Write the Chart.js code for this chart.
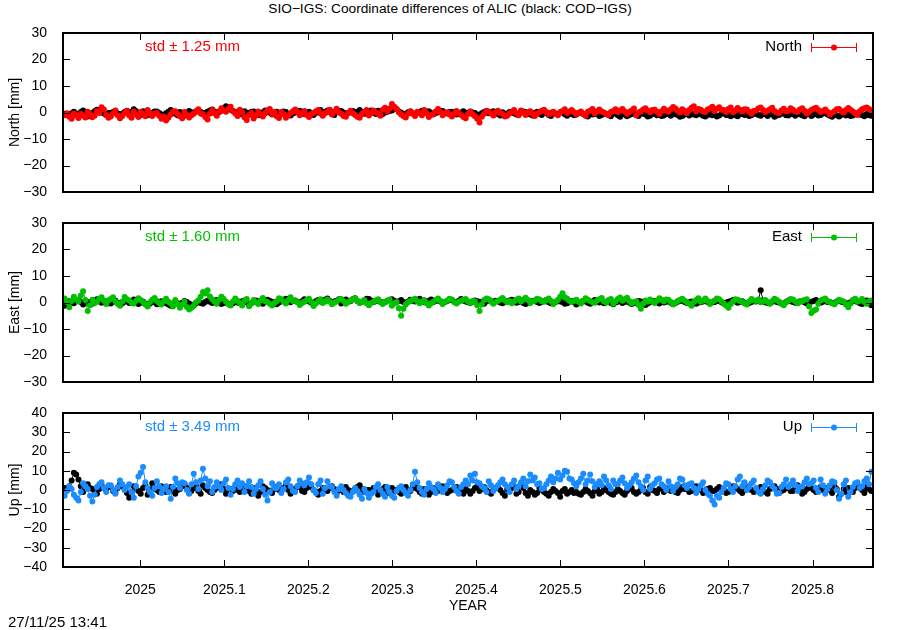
<!DOCTYPE html>
<html>
<head>
<meta charset="utf-8">
<script src="https://cdn.jsdelivr.net/npm/chart.js@4.4.1/dist/chart.umd.min.js"></script>
<style>
  body { margin: 0; width: 900px; height: 630px; background: #fff; position: relative; overflow: hidden;
         font-family: "Liberation Sans", Arial, sans-serif; }
  canvas { position: absolute; left: 0; }
  .txt { position: absolute; color: #000; white-space: nowrap; }
</style>
</head>
<body>
<div class="txt" style="left:0;width:900px;text-align:center;top:1px;font-size:13.7px">SIO−IGS: Coordinate differences of ALIC (black: COD−IGS)</div>
<canvas id="north" width="900" height="200" style="top:0"></canvas>
<canvas id="east" width="900" height="190" style="top:200px"></canvas>
<canvas id="up" width="900" height="240" style="top:390px"></canvas>
<div class="txt" style="left:8px;top:613px;font-size:15px">27/11/25 13:41</div>
<script>
// daily solutions, first and last epoch (decimal year)
const T0 = 2024.910, T1 = 2025.870;
const xMin = 2024.908, xMax = 2025.872;
const yearTicks = [2025, 2025.1, 2025.2, 2025.3, 2025.4, 2025.5, 2025.6, 2025.7, 2025.8];
const neTicks = [-30, -20, -10, 0, 10, 20, 30];
const upTicks = [-40, -30, -20, -10, 0, 10, 20, 30, 40];

// North [mm]
const northSio = [
  -1.0, -0.3, -1.6, -2.4, -0.4, -1.1, -2.1, -0.6, -1.2, -1.9, 0.3, -0.7, -1.8, -1.2, 0.6, -0.2, 2.0, 1.1, -0.9, -2.0,
  -1.5, -0.4, 0.8, -1.0, -2.2, -1.3, -0.3, 0.6, -1.1, -2.0, 0.4, -0.8, -1.7, 0.2, -0.6, -1.4, 0.9, -0.2, -1.3, -0.5,
  -0.2, -1.2, -2.4, -1.5, -3.0, -2.0, -0.8, 0.4, 0.5, -0.6, -1.4, -2.2, 0.2, -0.9, -1.9, -1.0, -0.5, 0.3, 1.2, -0.4,
  -0.7, -1.7, -2.6, -0.5, 0.9, -0.3, -1.2, 0.5, 1.6, 0.8, 0.3, 1.4, 2.2, 0.6, -0.4, -1.3, 1.0, 0.1, -1.8, -2.8,
  -0.9, -0.1, -2.3, -1.0, 0.4, -0.8, -1.5, -0.3, 0.8, 1.3, -0.6, 0.3, -1.4, -2.1, 0.2, -0.7, -2.0, -1.1, -0.3, 0.5,
  1.1, 0.2, -1.0, -0.2, 0.6, -0.9, -1.7, -0.6, -0.2, 0.5, 0.9, -0.4, -1.2, -0.3, 0.3, 1.0, -0.8, 0.4, 1.4, 0.1,
  -0.5, -1.3, -1.6, -0.2, 0.7, -0.3, -0.9, -1.6, -2.0, -0.6, 0.2, 0.9, -1.1, -0.2, 0.8, 0.0, -0.4, -1.2, 1.0, 1.8,
  0.4, 1.5, 3.2, 2.2, 1.2, 0.1, -0.8, -1.4, -1.9, -0.4, 0.5, -0.5, -1.3, 0.3, -0.2, -1.0, 0.9, -0.3, -1.7, -0.9,
  -0.6, 0.4, 1.3, 0.2, -1.0, -0.3, 0.1, -0.8, -1.5, -0.5, 0.6, -0.2, -0.9, -1.7, -2.2, -0.6, 0.3, -0.7, -1.4, -2.4,
  -3.8, -1.6, -0.5, 0.6, 0.4, -0.4, -1.1, 0.1, 0.7, -0.2, -0.6, -1.5, -1.2, -0.4, 0.2, 0.9, -0.3, -1.0, 0.8, 0.1,
  -0.9, -0.1, 0.5, -0.6, -1.3, -0.4, 0.1, 0.7, 1.0, 0.2, -0.7, -0.1, 0.3, -0.5, -1.0, 0.0, 0.6, 1.2, -0.2, 0.4,
  0.9, 0.1, -0.8, -0.2, 0.4, -0.5, -1.2, 0.3, 0.7, 1.3, -0.4, 0.5, 1.1, 0.4, 0.0, -0.6, -0.9, 0.2, 0.6, 1.2,
  0.2, 0.8, 1.3, 0.4, -0.5, 0.2, 0.8, 1.5, -1.0, 0.0, 0.5, 1.1, 1.6, 0.7, 0.1, 0.9, 1.0, 0.3, -0.6, 0.5,
  1.4, 0.8, 0.3, 1.2, 2.1, 1.5, 0.7, 0.0, 1.2, 0.6, -0.3, 0.9, 1.8, 2.4, 0.5, 1.3, 1.0, 0.4, 0.2, 1.1,
  1.5, 2.2, 0.6, 1.4, 2.0, 1.0, 0.9, 0.2, 1.3, 1.9, 0.1, 0.8, 1.7, 1.0, 0.4, 1.2, 1.1, 0.3, -0.5, 0.6,
  0.8, 1.5, 1.9, 0.9, 0.2, 0.7, 1.2, 1.8, 0.6, 0.0, -0.2, 0.8, 1.4, 0.5, 0.7, 1.6, 1.0, 0.4, 0.3, 1.1,
  1.6, 0.7, -0.4, 0.3, 0.9, 1.4, 1.8, 0.9, 0.2, 0.6, 1.1, 0.3, -0.8, -0.1, 0.5, 1.2, 1.3, 0.6, 0.0, 0.9,
  1.7, 1.0, 0.4, -0.3, -0.9, 0.5, 1.2, 1.6, 1.9, 1.3, 0.8
];
const northCod = [
  -0.5, -0.9, -1.2, -0.3, 0.3, -0.4, -0.8, 0.2, 0.8, -0.6, -1.5, -0.7, -0.2, 0.5, 1.0, 0.4, 0.1, -0.4, -0.9, -0.2,
  -0.3, 0.2, 0.6, -0.4, -1.1, -0.5, 0.2, 0.7, -0.6, 0.3, 1.2, 0.5, -0.4, -0.9, 0.5, 0.0, -1.0, -0.5, -0.1, 0.4,
  0.4, -0.2, -0.8, -1.3, -0.3, 0.3, 0.9, 0.2, -0.5, -1.0, 0.2, -0.4, -1.2, -0.3, 0.6, 0.1, -0.2, 0.5, 0.8, 0.2,
  -0.6, -0.1, 0.3, 0.8, 1.1, 0.4, -0.4, 0.2, 0.7, 1.6, 2.4, 1.8, 1.0, 0.6, 0.2, -0.3, -0.7, 0.0, 0.5, -0.1,
  -0.3, 0.3, 0.4, -0.5, -1.0, -0.4, 0.1, 0.8, 0.6, -0.1, -0.8, -0.2, 0.3, -0.2, -0.5, 0.4, 0.2, -0.6, -1.1, -0.4,
  0.0, 0.4, 0.7, 0.1, -0.6, -0.2, 0.3, -0.4, -0.9, -0.1, 0.5, 0.9, -0.2, 0.3, 0.8, 0.2, -0.4, -0.9, 0.1, 0.6,
  0.6, 0.0, -0.7, -0.2, 0.2, 0.6, -0.3, 0.3, 0.9, 0.2, -0.5, -0.1, 0.4, 0.8, -0.1, -0.6, 0.7, 0.1, -0.6, 0.0,
  0.3, 0.6, 0.8, 1.5, 1.3, 0.4, 0.0, -0.6, -0.5, 0.1, 0.4, -0.3, -0.9, -0.2, 0.2, 0.7, -0.3, 0.1, 0.5, -0.2,
  -0.7, -0.2, 0.1, 0.7, 0.6, -0.1, -0.4, 0.2, 0.3, -0.3, -0.8, -0.4, 0.0, 0.5, -0.5, -0.1, 0.4, 0.0, -0.2, -0.8,
  -1.0, -0.3, 0.2, 0.6, -0.3, 0.1, 0.5, -0.2, -0.6, -1.1, 0.1, -0.5, -0.4, 0.2, 0.3, -0.3, -0.8, -0.5, -0.1, 0.4,
  0.2, -0.3, -0.7, -1.1, -0.2, 0.3, -0.5, -0.9, 0.3, -0.2, -0.9, -1.3, -0.1, -0.4, -0.6, 0.1, 0.0, -0.7, -1.2, -0.6,
  -0.4, -1.0, -0.8, -0.2, 0.1, -0.6, -1.1, -1.5, -0.3, -0.8, -0.7, -0.2, -1.3, -0.9, -0.2, -0.6, -0.9, -1.4, -0.5, -0.1,
  -1.0, -1.6, -0.3, -0.8, -1.4, -0.9, -0.6, -0.2, -0.9, -1.3, -0.1, -0.5, -0.8, -1.5, -1.2, -0.6, -0.4, -1.0, -0.7, -1.3,
  -1.1, -0.6, -0.5, -1.2, -0.2, -0.7, -0.9, -1.6, -1.3, -0.8, -0.6, -1.1, -0.3, -0.8, -1.0, -0.4, -0.7, -1.2, -1.5, -0.9,
  -0.4, -1.0, -0.8, -1.5, -1.1, -0.5, -0.2, -0.9, -0.9, -1.4, -0.6, -1.0, -1.4, -0.7, -0.3, -0.9, -0.8, -1.3, -1.0, -0.5,
  -0.5, -0.9, -1.2, -0.6, -0.7, -1.3, -0.3, -0.8, -1.6, -1.1, -0.9, -0.4, -0.4, -1.0, -1.1, -0.6, -0.6, -1.2, -0.2, -0.7,
  -1.0, -1.4, -0.7, -0.3, -1.3, -0.8, -0.5, -1.1, -0.9, -0.4, -0.2, -0.8, -1.2, -1.6, -0.6, -1.0, -1.5, -0.9, -0.4, -1.1,
  -0.8, -1.3, -1.1, -0.5, -0.3, -0.8, -0.9, -1.4, -0.6, -1.0, -1.2
];

// East [mm]
const eastSio = [
  1.5, 0.2, -1.8, 0.6, 2.2, 1.1, 0.4, 2.6, 4.2, 0.9, -3.2, -1.0, 1.0, -0.2, 0.3, 1.4, 2.0, 0.7, -0.6, 0.8,
  1.3, 2.0, 0.5, -0.5, -1.2, 0.4, 2.1, 1.2, 0.8, -0.1, -0.4, 0.7, 1.6, 0.9, 0.2, -0.8, -1.5, 0.1, 1.0, 1.7,
  0.6, -0.2, -0.8, 0.5, 1.4, 0.3, -0.3, -1.5, 0.9, -0.6, -2.0, -0.8, 0.4, -1.7, -2.6, -2.0, -1.2, 0.1, 0.8, 2.2,
  4.0, 3.4, 4.6, 2.3, 1.2, 0.4, -0.5, 1.0, 2.2, 1.3, 0.3, -0.6, -1.0, 0.4, 1.5, 0.7, -0.2, -1.1, 0.6, 1.3,
  -1.4, -0.3, 0.9, 0.1, -0.6, 0.8, 1.7, 0.5, 0.2, -0.5, -1.1, -0.2, 0.5, 1.6, 1.2, 0.3, -0.4, 0.9, 2.0, 0.6,
  0.8, 0.1, -0.9, -0.2, 0.3, 0.9, 1.4, 0.2, -1.3, -0.4, 0.6, 1.2, -0.2, 0.4, 1.1, 0.3, -0.7, -0.1, 0.4, 1.0,
  1.3, 0.6, -0.5, 0.2, 0.7, 1.2, 1.6, 0.5, -0.2, 0.4, 0.9, -0.3, -1.0, -0.2, 0.3, 0.8, 1.2, 0.1, -0.6, 0.2,
  0.5, 1.1, -1.2, -0.4, 0.2, -2.2, -5.0, -2.4, -0.8, 0.1, 0.6, 1.0, 1.4, 0.5, -0.3, 0.3, 0.9, -0.2, -1.1, -0.3,
  0.4, 0.9, 1.5, 0.6, -0.6, 0.2, 0.8, 1.4, 1.1, 0.2, -0.4, 0.3, 0.7, 1.0, 1.3, 0.4, -0.2, 0.6, 0.5, -1.0,
  -3.2, -0.8, 0.9, 1.5, 1.2, 0.3, -0.5, 0.2, 0.6, 1.1, 1.7, 0.8, 0.1, 0.6, -0.3, 0.4, 1.0, 1.5, 0.4, 1.1,
  1.8, 0.9, -0.2, 0.4, 0.7, 1.4, 1.1, 0.5, 0.3, 0.9, 1.5, 0.6, -0.6, 0.2, 0.9, 2.2, 3.5, 2.0, 1.4, 0.7,
  0.2, 0.6, 1.0, 0.3, -0.4, 0.7, 1.6, 1.0, 0.6, 0.1, -0.1, 0.8, 1.2, 1.7, 0.4, 0.0, 0.9, 1.3, -0.5, 0.4,
  1.3, 1.9, 0.7, 1.2, 1.8, 0.6, -0.3, 0.2, 0.5, -0.9, -2.4, -0.5, 0.8, 0.3, 1.1, 0.5, -0.2, 0.7, 1.6, 1.0,
  0.4, 1.1, 1.0, 0.2, -0.7, 0.0, 0.6, 1.0, 1.4, 0.7, 0.1, -0.5, -1.2, 0.2, 0.9, 1.6, 0.3, 0.8, 1.5, 0.6,
  -0.6, 0.3, 0.8, 1.5, 1.2, 0.4, -0.4, -1.1, -2.0, -0.6, 0.5, 1.2, 1.0, 0.6, 0.2, -0.3, -0.8, 0.4, 1.3, 0.8,
  0.6, 1.1, 0.1, 0.5, 0.9, 0.2, -0.5, 0.6, 1.4, 0.9, 0.3, -0.4, -1.0, 0.1, 0.7, 1.3, 1.1, 0.4, -0.3, 0.6,
  0.5, 0.9, 1.2, -1.5, -4.0, -3.1, -2.6, -0.5, 0.8, 1.1, 1.5, 0.6, 0.2, -0.3, -0.7, 0.4, 1.0, 0.7, 0.4, -0.8,
  -1.8, -0.4, 0.9, 1.4, 0.3, 0.7, 1.3, 0.2, -0.5, 0.4, 0.8
];
const eastCod = [
  -1.2, -0.4, 0.5, 0.1, -0.3, 0.6, 1.0, 0.2, -0.8, -0.2, 0.2, -0.6, -0.5, 0.4, 1.2, 0.5, -0.1, 0.3, 0.6, -0.3,
  -0.4, 0.3, 0.8, -0.1, -0.9, -0.3, 0.3, 0.7, -0.2, 0.4, 1.1, 0.2, -0.6, -0.1, 0.4, -0.5, -1.0, -0.4, 0.1, 0.5,
  -0.7, 0.0, 0.5, 0.1, -0.3, -0.8, -1.2, -0.5, 0.2, -0.3, -0.8, -0.1, 0.6, 0.2, -0.4, -0.9, -1.1, -0.3, 0.3, -0.2,
  -0.5, 0.2, 0.7, 0.3, -0.2, 0.4, 0.9, 0.1, -0.6, -0.2, 0.1, -0.5, -1.0, -0.3, 0.4, 0.0, -0.3, 0.5, 0.8, 0.1,
  -0.9, -0.3, 0.2, 0.8, 0.6, -0.1, -0.5, 0.4, 1.0, 0.6, 0.3, -0.2, -0.7, 0.0, 0.5, 1.0, 1.4, 0.7, 0.1, 0.6,
  0.8, 0.3, -0.3, 0.5, 1.2, 0.8, 0.4, -0.1, -0.2, 0.5, 0.9, 0.4, 0.3, 1.0, 1.5, 0.6, 0.0, 0.4, 0.7, 1.2,
  -0.4, 0.4, 1.1, 0.7, 0.5, 1.2, 1.6, 0.6, -0.1, 0.3, 0.8, 1.4, 1.3, 0.7, 0.2, 0.5, 0.9, 0.3, -0.3, 0.2,
  0.6, 0.9, 1.2, 0.7, 0.3, 0.5, 0.9, 0.2, -0.2, 0.4, 1.0, 0.6, 0.4, 0.9, 1.4, 0.8, 0.1, 0.3, 0.7, 1.1,
  0.2, 0.6, 1.1, 0.4, -0.3, 0.2, 0.6, 1.0, 0.9, 0.3, 0.0, 0.7, 1.3, 0.8, 0.4, 0.1, -0.2, 0.3, 0.8, 0.5,
  0.3, -0.1, -0.5, 0.4, 0.9, 0.5, 0.1, 0.7, 0.6, 0.0, -0.3, 0.2, 0.4, 0.8, 1.0, 0.3, -0.1, 0.2, 0.5, -0.2,
  -0.6, -0.1, 0.3, 0.6, 0.8, 0.2, -0.2, 0.3, 0.5, 0.9, 0.1, -0.3, -0.4, 0.2, 0.7, 0.4, 0.2, -0.5, -0.3, 0.3,
  0.6, 0.1, -0.8, -0.2, 0.2, 0.7, 0.4, -0.1, -0.5, 0.3, 0.9, 0.4, 0.0, 0.5, -0.3, 0.1, 0.5, -0.2, -0.7, 0.0,
  0.3, 0.8, -0.2, 0.2, 0.7, 0.0, -0.6, -0.2, 0.1, 0.6, 0.4, -0.3, -0.9, -0.4, 0.2, 0.5, 0.6, 0.1, -0.4, 0.2,
  0.0, 0.3, 0.5, -0.1, -0.7, -0.2, 0.3, 0.6, 0.8, 0.2, -0.2, 0.1, 0.4, -0.1, -0.5, 0.0, 0.1, 0.4, 0.7, 0.2,
  -0.3, 0.1, 0.2, 0.7, 0.6, 0.1, -0.4, 0.0, 0.3, 0.6, 0.9, 0.4, -0.1, 0.2, 0.5, -0.1, -0.6, -0.2, 0.2, 0.5,
  0.4, 0.9, 4.6, 0.8, 0.1, -0.2, -0.3, 0.3, 0.6, 0.2, 0.0, -0.4, -0.5, 0.2, 0.8, 0.5, 0.2, -0.1, -0.2, 0.4,
  0.5, 0.1, -0.4, 0.0, 0.3, 0.6, 0.9, 0.4, -0.1, 0.3, 0.6, 0.2, 0.2, -0.2, -0.3, 0.4, 0.7, 0.3, 0.1, -0.3,
  -0.4, 0.1, 0.5, 0.6, 0.2, -0.3, -0.6, 0.2, 0.8, -0.2, -1.0
];

// Up [mm]
const upSio = [
  -3.0, -0.5, 2.0, 0.5, -2.5, -4.0, -5.5, -1.0, 3.5, 2.0, 0.5, -3.0, -6.0, -2.5, 1.5, 3.0, 4.0, 1.0, -1.0, 2.5,
  2.5, 0.0, -2.0, 1.5, 5.0, 3.0, 0.0, 1.5, 3.0, -1.0, -4.0, 2.0, 7.0, 9.0, 12.0, 4.0, 1.0, -1.0, -3.0, 1.0,
  4.5, 2.0, -1.5, 0.5, 2.0, -1.0, -4.5, 1.5, 6.0, 3.5, 1.0, 4.0, 3.5, 0.0, -2.0, 3.0, 8.5, 4.0, 0.5, 5.0,
  11.0, 6.0, 2.0, 4.5, -1.0, 1.5, 4.0, 2.0, 0.0, 3.5, 5.5, 1.0, -2.5, 0.5, 3.0, 5.0, 1.5, 3.5, -1.0, 2.0,
  4.5, 1.5, -2.0, 0.5, 2.5, 4.5, 0.5, -2.5, -5.5, -1.0, 3.5, 1.0, 1.0, 3.0, -1.5, 0.5, 4.0, 5.5, 2.0, -0.5,
  -1.0, 2.0, 5.0, 3.5, 2.5, 4.0, 6.5, 3.0, 0.0, -1.5, 3.0, 5.0, -2.0, 1.0, 4.5, 2.0, 1.5, -1.0, -3.0, 0.5,
  2.0, 0.0, -1.5, -3.0, -3.5, -1.0, 1.0, -0.5, -2.5, -4.5, 0.5, -1.5, -4.0, -2.0, -1.0, 1.5, 3.0, 0.0, -2.0, -3.5,
  1.5, -1.0, -3.0, -4.0, -0.5, 1.0, 2.0, 0.0, -1.5, -3.0, 0.0, 3.0, 9.5, 4.0, 1.0, -1.0, -2.5, 0.5, 3.5, 1.5,
  0.5, -1.5, 3.0, 1.0, -1.0, 0.5, 2.5, 4.5, 4.0, 1.5, -0.5, -2.0, 1.5, 3.0, 5.0, 3.0, 7.5, 5.0, 8.5, 4.0,
  3.5, 2.0, 1.0, -1.0, 4.5, 2.5, -0.5, 1.0, 2.5, 4.0, 5.5, 3.0, 1.5, -1.0, 3.0, 5.0, 0.5, 2.0, 4.0, 6.0,
  2.0, 4.5, 8.0, 5.0, 6.5, 3.0, 3.5, 0.5, 1.0, 3.0, 5.0, 7.0, 4.0, 6.0, 9.0, 5.5, 7.5, 10.0, 9.5, 6.0,
  5.5, 3.5, 2.0, 4.0, 6.0, 8.5, 3.0, 5.0, 8.0, 4.5, 1.5, 3.0, 4.5, 2.5, 7.0, 5.0, 2.5, 0.5, 5.0, 3.0,
  3.0, 5.0, 6.5, 3.5, 1.0, 2.5, 4.0, 6.0, 7.5, 4.0, 2.0, 0.0, 5.0, 7.0, 0.5, 2.5, 3.5, 5.5, 6.0, 3.0,
  2.0, 0.0, 4.5, 2.0, -0.5, 1.5, 3.0, 6.0, 5.5, 2.5, 1.0, 3.0, 3.5, 1.0, -1.5, 0.5, 2.5, 4.0, 0.0, -2.0,
  -3.0, -5.5, -7.5, -3.0, -4.0, -1.0, 1.0, 3.5, 3.0, 0.5, -1.0, 2.0, 5.5, 7.0, 2.0, 4.0, 0.0, 1.5, 3.5, 5.0,
  1.0, -1.0, -2.0, 0.5, 2.5, 5.0, 4.0, 2.0, 0.5, -2.0, -1.5, 1.5, 3.0, 5.5, 1.5, 3.0, 5.0, 2.5, -0.5, 1.5,
  2.0, 4.0, 6.0, 3.0, 3.5, 5.0, 1.0, -1.0, 5.5, 2.5, -2.0, 0.5, 2.5, 4.5, 4.0, 0.0, -4.5, -2.0, 3.0, 5.0,
  -3.5, -1.0, 1.5, 3.5, 4.0, 1.0, 2.0, 4.5, 6.0, 3.0, 9.5
];
const upCod = [
  1.0, 0.0, 2.0, 5.0, 9.0, 8.0, 5.5, 2.0, -1.0, 1.5, 3.0, 1.0, 0.5, -1.0, -2.0, 0.5, 2.5, 1.0, 0.0, 2.0,
  1.5, -0.5, -1.5, 1.0, 3.0, 2.0, 0.5, -1.5, -4.0, -1.0, 2.0, 0.5, -0.5, -2.0, 1.0, 2.5, -2.5, 0.5, 3.5, 1.0,
  0.0, -1.0, 2.0, 0.5, -1.0, 0.5, 1.5, -0.5, -2.0, 0.0, 0.5, 2.0, 3.0, 1.0, -1.5, -0.5, 1.0, 2.0, -0.5, -2.0,
  2.5, 1.0, 0.0, -1.0, -1.5, 0.0, 1.0, 2.0, 3.0, 0.5, -2.0, -1.0, 0.5, -0.5, 1.5, 0.0, -1.0, 0.5, 2.0, 1.0,
  -0.5, -2.0, 1.0, 0.0, -3.0, -1.0, 2.0, 1.0, 0.0, -0.5, -1.5, 0.5, 1.5, 0.0, -0.5, 1.0, 2.5, 0.0, -2.0, -0.5,
  0.5, 2.0, 1.5, -0.5, -1.0, 1.0, 3.0, 1.5, 0.0, -1.0, -2.5, -0.5, 1.0, 0.0, -0.5, 1.0, 2.0, 0.5, -1.5, 0.0,
  0.0, -1.0, 1.5, 0.0, -2.0, -0.5, 0.5, 1.5, 2.5, 0.5, -1.0, 0.0, 0.0, -1.5, 1.0, 0.0, -2.5, -1.0, 0.5, 1.5,
  -1.5, 0.0, 1.0, -0.5, 0.0, -1.0, -2.0, 0.5, 1.5, 0.0, -0.5, 1.0, 2.0, 0.5, -1.0, -2.0, 0.5, -0.5, -2.5, -1.0,
  1.0, 0.0, -0.5, 1.0, 2.0, 0.5, -1.5, -0.5, 0.0, 1.0, 1.5, 0.0, -1.0, -2.0, 0.5, -0.5, -2.0, -0.5, 1.0, 2.0,
  -0.5, 0.5, 1.5, 0.0, -1.0, -2.0, 0.0, 1.0, 2.0, 0.0, -1.5, -3.0, 0.5, -0.5, 1.0, 2.0, -2.0, -1.0, 3.0, 1.0,
  -1.5, -3.0, 0.0, -1.0, -2.5, -1.5, 1.0, 0.0, -1.0, -2.0, -3.0, -1.0, 0.5, -0.5, -1.5, -3.5, -0.5, 0.5, -2.0, -1.0,
  0.0, -1.5, -1.0, -2.0, -2.5, -1.0, 0.5, -0.5, -1.5, -3.0, -0.5, 0.5, -2.0, -1.0, 1.0, 0.0, -1.0, -2.0, -2.5, -1.0,
  0.5, -0.5, -1.5, -2.5, -0.5, 0.5, 1.0, -1.0, -2.0, -1.0, 0.0, 1.0, -1.0, -2.0, 1.5, 0.0, -0.5, -1.5, 0.5, 1.0,
  -1.0, 0.0, 1.0, -0.5, 0.0, -1.0, -1.5, 0.0, 1.5, 0.5, 0.5, -1.0, -0.5, 1.0, 2.0, 0.5, 0.0, -1.5, -1.0, 0.5,
  1.0, -0.5, -0.5, 0.5, 1.5, 0.0, 0.0, -1.5, -1.0, 0.5, 2.0, 1.0, 0.5, -0.5, -1.5, 0.0, 1.0, 2.0, 0.0, -1.0,
  -0.5, 0.5, 1.5, 0.0, -1.0, -2.0, 0.5, 1.5, 2.0, 0.5, -1.5, -0.5, 0.0, 1.0, 1.0, -0.5, -0.5, 1.0, 2.5, 0.5,
  -2.0, -1.0, 0.5, 2.0, 1.0, 0.0, -1.0, 0.5, 1.5, 0.0, -0.5, 1.0, 0.0, -1.5, 2.0, 0.5, -3.5, -2.0, 0.5, -1.0,
  1.0, 0.0, -1.0, 1.0, 2.5, 1.0, 0.0, -1.5, 1.5, 0.5, -0.5
];

const FONT = '"Liberation Sans", Arial, sans-serif';
// one point per day between T0 and T1
const pts = arr => arr.map((v, i) => ({ x: T0 + i * (T1 - T0) / (arr.length - 1), y: v }));
const minus = s => String(s).replace('-', '\u2212');

// gnuplot-like box, inward tics on all sides, std note and key
const panelDecor = {
  id: 'panelDecor',
  afterDatasetsDraw(chart, args, opts) {
    const { ctx, chartArea: a, scales: { x, y } } = chart;
    const tl = 7;
    ctx.save();
    ctx.strokeStyle = '#000';
    ctx.lineWidth = 1;
    ctx.beginPath();
    yearTicks.forEach(v => {
      const px = Math.round(x.getPixelForValue(v)) + 0.5;
      ctx.moveTo(px, a.bottom); ctx.lineTo(px, a.bottom - tl);
      ctx.moveTo(px, a.top); ctx.lineTo(px, a.top + tl);
    });
    opts.yTicks.forEach(v => {
      const py = Math.round(y.getPixelForValue(v)) + 0.5;
      ctx.moveTo(a.left, py); ctx.lineTo(a.left + tl, py);
      ctx.moveTo(a.right, py); ctx.lineTo(a.right - tl, py);
    });
    ctx.stroke();
    ctx.lineWidth = 2;
    ctx.strokeRect(a.left, a.top, a.right - a.left, a.bottom - a.top);

    const ly = a.top + 14;
    ctx.font = '15px ' + FONT;
    ctx.textBaseline = 'middle';
    ctx.fillStyle = opts.color;
    ctx.textAlign = 'left';
    ctx.fillText(opts.std, a.left + 82, ly);
    ctx.fillStyle = '#000';
    ctx.textAlign = 'right';
    ctx.fillText(opts.name, a.right - 71, ly);

    // key sample: line with error-bar caps and a dot
    ctx.strokeStyle = opts.color;
    ctx.fillStyle = opts.color;
    ctx.lineWidth = 1;
    const x0 = a.right - 62, x1 = a.right - 16;
    ctx.beginPath();
    ctx.moveTo(x0, ly + 0.5); ctx.lineTo(x1, ly + 0.5);
    ctx.moveTo(x0 + 0.5, ly - 4); ctx.lineTo(x0 + 0.5, ly + 5);
    ctx.moveTo(x1 - 0.5, ly - 4); ctx.lineTo(x1 - 0.5, ly + 5);
    ctx.stroke();
    ctx.beginPath();
    ctx.arc((x0 + x1) / 2, ly + 0.5, 3, 0, Math.PI * 2);
    ctx.fill();
    ctx.restore();
  }
};

function makePanel(id, sio, cod, color, name, std, yTicks, pad, bottomAxis) {
  const series = (data, c, order) => ({
    data: pts(data), borderColor: c, backgroundColor: c, borderWidth: 1,
    pointRadius: 3, pointBorderWidth: 0, pointHoverRadius: 0, order
  });
  return new Chart(document.getElementById(id), {
    type: 'line',
    data: { datasets: [series(sio, color, 0), series(cod, '#000', 1)] },
    options: {
      responsive: false,
      animation: false,
      events: [],
      layout: { padding: { top: pad.top, right: 27, bottom: pad.bottom, left: 0 } },
      scales: {
        x: {
          type: 'linear', min: xMin, max: xMax,
          afterBuildTicks: s => { s.ticks = yearTicks.map(v => ({ value: v })); },
          afterFit: s => { s.height = bottomAxis ? 63 : 0; s.paddingLeft = 0; s.paddingRight = 0; },
          grid: { display: false },
          border: { display: false },
          ticks: {
            display: bottomAxis, padding: 7, color: '#000', maxRotation: 0, autoSkip: false,
            font: { family: FONT, size: 14 },
            callback: v => String(Math.round(v * 10) / 10)
          },
          title: {
            display: bottomAxis, text: 'YEAR', color: '#000',
            font: { family: FONT, size: 14 }, padding: { top: 0, bottom: 15 }
          }
        },
        y: {
          min: yTicks[0], max: yTicks[yTicks.length - 1],
          afterBuildTicks: s => { s.ticks = yTicks.map(v => ({ value: v })); },
          afterFit: s => { s.width = 63; s.paddingTop = 0; s.paddingBottom = 0; },
          grid: { display: false },
          border: { display: false },
          ticks: {
            padding: 8, color: '#000', autoSkip: false, font: { family: FONT, size: 14 },
            callback: v => minus(v)
          },
          title: {
            display: true, text: name + ' [mm]', color: '#000',
            font: { family: FONT, size: 14 }, padding: { top: 7, bottom: 0 }
          }
        }
      },
      plugins: {
        legend: { display: false },
        tooltip: { enabled: false },
        panelDecor: { color, name, std, yTicks }
      }
    },
    plugins: [panelDecor]
  });
}

makePanel('north', northSio, northCod, '#ff0000', 'North', 'std \u00b1 1.25 mm', neTicks, { top: 33, bottom: 8 }, false);
makePanel('east', eastSio, eastCod, '#00c000', 'East', 'std \u00b1 1.60 mm', neTicks, { top: 23, bottom: 8 }, false);
makePanel('up', upSio, upCod, '#1a8cff', 'Up', 'std \u00b1 3.49 mm', upTicks, { top: 23, bottom: 0 }, true);
</script>
</body>
</html>
